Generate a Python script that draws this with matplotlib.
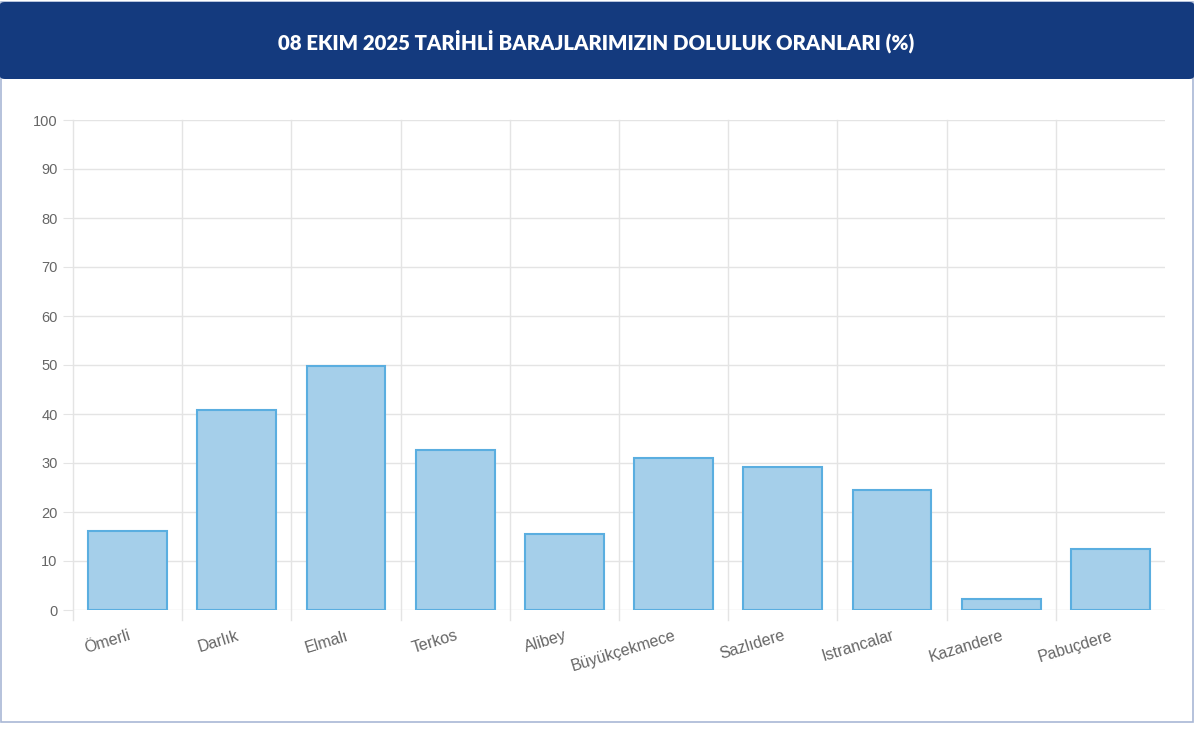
import matplotlib
matplotlib.use("Agg")
import matplotlib.pyplot as plt
from matplotlib.patches import FancyBboxPatch, Rectangle

categories = ["Ömerli", "Darlık", "Elmalı", "Terkos", "Alibey", "Büyükçekmece",
              "Sazlıdere", "Istrancalar", "Kazandere", "Pabuçdere"]
values = [16.2, 40.8, 49.8, 32.6, 15.5, 31.1, 29.1, 24.5, 2.2, 12.5]
yticks = [0, 10, 20, 30, 40, 50, 60, 70, 80, 90, 100]
title = "08 EKIM 2025 TARİHLİ BARAJLARIMIZIN DOLULUK ORANLARI (%)"

W, H = 1200, 732
fig = plt.figure(figsize=(W / 100, H / 100), dpi=100)
fig.patch.set_facecolor("white")

# card border
fig.add_artist(Rectangle((1 / W, 1 - 722 / H), 1192 / W, 720 / H,
                         transform=fig.transFigure, facecolor="white",
                         edgecolor="#a9b8d6", linewidth=1.2, zorder=0))
# header band
fig.add_artist(FancyBboxPatch((0, 1 - 79 / H), 1194 / W, 77 / H,
                              boxstyle="round,pad=0,rounding_size=0.004",
                              transform=fig.transFigure, facecolor="#143a7e",
                              edgecolor="none", zorder=1))
fig.text(596 / W, 1 - 41 / H, title, color="white", ha="center", va="center",
         fontsize=14.7, fontweight="heavy", family=["Lato", "DejaVu Sans"], zorder=2)

ax = fig.add_axes([73 / W, 1 - 610 / H, 1092 / W, 490 / H])
x = list(range(len(categories)))
ax.bar(x, values, width=0.72, color="#a5cfea", edgecolor="#5aaee0",
       linewidth=1.5, zorder=3)

ax.set_xlim(-0.5, len(categories) - 0.5)
ax.set_ylim(0, 100)
ax.set_yticks(yticks)
ax.set_yticklabels([str(v) for v in yticks], fontsize=10.5, color="#666666",
                   family=["Liberation Sans", "DejaVu Sans"])
ax.set_xticks(x)
ax.set_xticklabels(categories, rotation=17, ha="right", rotation_mode="anchor",
                   fontsize=11.5, color="#666666",
                   family=["Liberation Sans", "DejaVu Sans"])
ax.tick_params(axis="x", length=0, pad=13)
ax.tick_params(axis="y", length=7, color="#e4e4e4", pad=4)

for s in ax.spines.values():
    s.set_visible(False)
ax.grid(axis="y", color="#e4e4e4", linewidth=1, zorder=0)
ax.set_axisbelow(True)
# vertical category boundary lines (extend slightly below axis)
bounds = [i - 0.5 for i in range(len(categories))]
for b in bounds:
    ax.plot([b, b], [-2, 100], color="#e4e4e4", linewidth=1, zorder=0,
            clip_on=False)

fig.savefig("out.png", dpi=100, facecolor="white")
